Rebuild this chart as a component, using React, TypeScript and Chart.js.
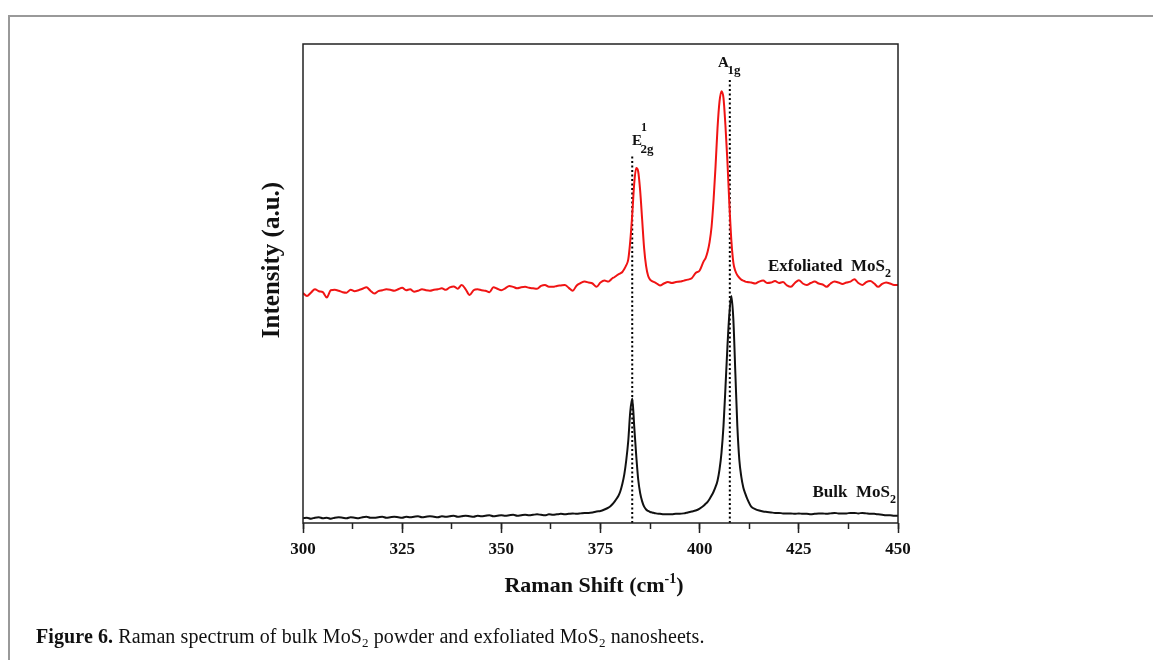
import React, { useEffect, useRef } from "react";
import { Chart, registerables } from "chart.js";

Chart.register(...registerables);

// Raman shift (cm^-1) sample positions
const ramanShift: number[] = [
  300, 301, 302, 303, 304, 305, 306, 307, 308, 309,
  310, 311, 312, 313, 314, 315, 316, 317, 318, 319,
  320, 321, 322, 323, 324, 325, 326, 327, 328, 329,
  330, 331, 332, 333, 334, 335, 336, 337, 338, 339,
  340, 341, 342, 343, 344, 345, 346, 347, 348, 349,
  350, 351, 352, 353, 354, 355, 356, 357, 358, 359,
  360, 361, 362, 363, 364, 365, 366, 367, 368, 369,
  370, 371, 372, 373, 374, 375, 376, 377,
  377.5, 378, 378.5, 379, 379.5, 380, 380.5, 381, 381.5, 382, 382.5,
  383, 383.5, 384, 384.5, 385, 385.5, 386, 386.5, 387, 387.5, 388,
  389, 390, 391, 392, 393, 394, 395, 396, 397, 398, 399, 400, 401,
  401.5, 402, 402.5, 403, 403.5, 404, 404.5, 405, 405.5, 406, 406.5,
  407, 407.5, 408, 408.5, 409, 409.5, 410, 410.5, 411, 411.5, 412,
  413, 414, 415, 416, 417, 418, 419, 420, 421, 422,
  423, 424, 425, 426, 427, 428, 429, 430, 431, 432,
  433, 434, 435, 436, 437, 438, 439, 440, 441, 442,
  443, 444, 445, 446, 447, 448, 449, 450,
];

// Exfoliated MoS2 (red), arbitrary units
const exfoliatedIntensity: number[] = [
  48.2, 47.6, 48.3, 49.0, 48.6, 48.4, 47.3, 48.8, 48.9, 48.7,
  48.4, 48.3, 48.9, 48.6, 48.8, 49.1, 49.4, 48.7, 48.1, 48.6,
  48.8, 49.0, 48.9, 48.7, 49.0, 49.3, 48.8, 49.0, 48.5, 48.7,
  49.0, 48.8, 48.7, 48.9, 49.0, 49.2, 48.9, 49.4, 49.6, 49.1,
  49.9, 49.0, 47.8, 48.8, 49.0, 48.8, 48.7, 48.4, 49.4, 49.1,
  48.8, 49.2, 49.7, 49.5, 49.2, 49.4, 49.5, 49.3, 49.2, 49.1,
  49.7, 49.9, 49.5, 49.5, 49.7, 49.8, 49.9, 49.3, 48.7, 49.8,
  50.3, 50.6, 50.4, 50.2, 49.5, 50.4, 50.8, 50.6,
  50.9, 51.3, 51.5, 51.8, 52.1, 52.3, 52.6, 53.2, 54.0, 55.2, 59.0,
  64.5, 71.0, 74.2, 73.5, 69.5, 63.5, 57.5, 53.8, 51.8, 51.0, 50.7,
  50.3, 49.8, 50.2, 50.5, 50.3, 50.5, 50.6, 50.8, 51.0, 51.3, 52.4, 52.9, 54.8,
  55.5, 56.8, 58.8, 62.0, 67.5, 74.5, 82.5, 88.0, 90.2, 88.8, 83.0,
  75.5, 66.5, 59.0, 54.5, 52.8, 51.9, 51.4, 51.0, 50.8, 50.6, 50.5,
  50.4, 50.2, 50.6, 50.8, 50.3, 50.4, 50.7, 50.3, 50.5, 49.8,
  49.5, 50.3, 50.9, 50.2, 49.9, 50.3, 50.6, 50.2, 50.0, 49.5,
  50.2, 50.6, 50.4, 50.1, 50.4, 50.6, 51.1, 50.3, 49.9, 50.5,
  50.7, 50.2, 49.5, 50.1, 50.4, 50.2, 49.9, 49.9,
];

// Bulk MoS2 (black), arbitrary units
const bulkIntensity: number[] = [
  1.4, 1.5, 1.3, 1.5, 1.6, 1.4, 1.5, 1.3, 1.5, 1.6,
  1.5, 1.4, 1.6, 1.5, 1.4, 1.6, 1.7, 1.5, 1.5, 1.6,
  1.7, 1.5, 1.6, 1.7, 1.6, 1.5, 1.7, 1.6, 1.7, 1.8,
  1.6, 1.7, 1.8, 1.7, 1.6, 1.8, 1.7, 1.8, 1.9, 1.7,
  1.8, 1.9, 1.8, 1.7, 1.9, 1.8, 1.9, 2.0, 1.8, 1.9,
  2.0, 1.9, 2.0, 2.1, 1.9, 2.0, 2.1, 2.0, 2.1, 2.2,
  2.1, 2.0, 2.2, 2.1, 2.2, 2.3, 2.2, 2.3, 2.4, 2.3,
  2.4, 2.5, 2.5, 2.6, 2.8, 2.9, 3.2, 3.6,
  3.9, 4.3, 4.8, 5.4, 6.0, 7.0, 8.5, 10.5, 13.5, 17.5, 23.5,
  26.3, 20.5, 14.5, 9.5, 6.6, 4.9, 3.8, 3.2, 2.9, 2.7, 2.6,
  2.4, 2.3, 2.2, 2.2, 2.2, 2.3, 2.3, 2.4, 2.6, 2.8, 3.0, 3.4, 4.0,
  4.4, 4.8, 5.4, 6.1, 6.9, 7.9, 9.2, 11.5, 15.0, 20.5, 28.5,
  37.1, 44.0, 47.6, 42.6, 31.5, 20.5, 13.5, 10.0, 7.8, 6.5, 5.4,
  3.8, 3.3, 3.0, 2.8, 2.7, 2.6, 2.5, 2.5, 2.4, 2.4,
  2.4, 2.3, 2.4, 2.3, 2.3, 2.2, 2.3, 2.4, 2.4, 2.3,
  2.4, 2.5, 2.4, 2.4, 2.4, 2.5, 2.5, 2.4, 2.5, 2.4,
  2.3, 2.3, 2.2, 2.1, 2.0, 2.0, 1.9, 1.9,
];

// Dotted marker lines for the two Raman modes
const e2gLineX: number[] = [383.0, 383.0];
const e2gLineY: number[] = [0.4, 76.9];
const a1gLineX: number[] = [407.6, 407.6];
const a1gLineY: number[] = [0.4, 92.5];

const xMin = 300;
const xMax = 450;
const xMajorStep = 25;
const xMinorStep = 12.5;
const yMin = 0.4;
const yMax = 100;

const SERIF = "'Liberation Serif', 'Times New Roman', serif";

type Seg = { text: string; size: number; dy?: number };

function drawRich(ctx: CanvasRenderingContext2D, segs: Seg[], x: number, y: number, align: "left" | "center" | "right") {
  let total = 0;
  const widths = segs.map((s) => {
    ctx.font = `bold ${s.size}px ${SERIF}`;
    const w = ctx.measureText(s.text).width;
    total += w;
    return w;
  });
  let cx = align === "left" ? x : align === "center" ? x - total / 2 : x - total;
  ctx.textAlign = "left";
  ctx.textBaseline = "alphabetic";
  segs.forEach((s, i) => {
    ctx.font = `bold ${s.size}px ${SERIF}`;
    ctx.fillText(s.text, cx, y + (s.dy || 0));
    cx += widths[i];
  });
}

const annotationPlugin = {
  id: "ramanAnnotations",
  afterDatasetsDraw(chart: any) {
    const { ctx, chartArea } = chart;
    ctx.save();
    ctx.strokeStyle = "#222";
    ctx.lineWidth = 1.5;
    ctx.strokeRect(chartArea.left, chartArea.top, chartArea.right - chartArea.left, chartArea.bottom - chartArea.top);
    ctx.restore();
  },
  afterDraw(chart: any) {
    const { ctx } = chart;
    ctx.save();
    ctx.fillStyle = "#111";

    // peak labels
    drawRich(ctx, [{ text: "E", size: 15 }], 632, 145, "left");
    drawRich(ctx, [{ text: "1", size: 12 }], 641, 131, "left");
    drawRich(ctx, [{ text: "2g", size: 13 }], 640.5, 153, "left");
    drawRich(ctx, [{ text: "A", size: 15 }], 718, 67, "left");
    drawRich(ctx, [{ text: "1g", size: 13 }], 727.5, 74, "left");

    // curve labels
    drawRich(ctx, [{ text: "Exfoliated  MoS", size: 17 }, { text: "2", size: 12, dy: 6 }], 891, 271, "right");
    drawRich(ctx, [{ text: "Bulk  MoS", size: 17 }, { text: "2", size: 12, dy: 6 }], 896, 497, "right");

    // x title
    drawRich(
      ctx,
      [
        { text: "Raman Shift (cm", size: 22 },
        { text: "-1", size: 14, dy: -9 },
        { text: ")", size: 22 },
      ],
      594,
      592,
      "center"
    );

    // y title
    ctx.translate(273, 260);
    ctx.rotate(-Math.PI / 2);
    ctx.font = `bold 25px ${SERIF}`;
    ctx.textAlign = "center";
    ctx.textBaseline = "middle";
    ctx.fillText("Intensity (a.u.)", 0, 0);
    ctx.restore();
  },
};

export default function App() {
  const canvasRef = useRef<HTMLCanvasElement | null>(null);

  useEffect(() => {
    const prevOverflow = document.body.style.overflow;
    document.body.style.overflow = "hidden";
    const canvas = canvasRef.current;
    if (!canvas) return;

    const toPoints = (xs: number[], ys: number[]) => xs.map((x, i) => ({ x, y: ys[i] }));

    const chart = new Chart(canvas, {
      type: "line",
      data: {
        datasets: [
          {
            label: "Exfoliated MoS2",
            data: toPoints(ramanShift, exfoliatedIntensity),
            borderColor: "#f01414",
            borderWidth: 2,
            pointRadius: 0,
            cubicInterpolationMode: "monotone",
            fill: false,
          },
          {
            label: "Bulk MoS2",
            data: toPoints(ramanShift, bulkIntensity),
            borderColor: "#111111",
            borderWidth: 2,
            pointRadius: 0,
            cubicInterpolationMode: "monotone",
            fill: false,
          },
          {
            label: "E2g",
            data: toPoints(e2gLineX, e2gLineY),
            borderColor: "#000",
            borderWidth: 2,
            borderDash: [2, 2.5],
            pointRadius: 0,
            fill: false,
          },
          {
            label: "A1g",
            data: toPoints(a1gLineX, a1gLineY),
            borderColor: "#000",
            borderWidth: 2,
            borderDash: [2, 2.5],
            pointRadius: 0,
            fill: false,
          },
        ],
      },
      options: {
        responsive: false,
        animation: false,
        events: [],
        layout: { padding: { left: 303, top: 44, right: 255, bottom: 97 } },
        plugins: {
          legend: { display: false },
          tooltip: { enabled: false },
        },
        scales: {
          xMinor: {
            type: "linear",
            position: "bottom",
            weight: 0,
            min: xMin,
            max: xMax,
            ticks: { display: false, stepSize: xMinorStep },
            grid: { display: true, drawOnChartArea: false, drawTicks: true, tickLength: 6, tickColor: "#222", tickWidth: 1.5 },
            border: { display: false },
            afterFit: (s: any) => {
              s.height = 0;
            },
          },
          x: {
            type: "linear",
            position: "bottom",
            weight: 1,
            min: xMin,
            max: xMax,
            ticks: {
              stepSize: xMajorStep,
              padding: 6,
              color: "#111",
              font: { family: SERIF, size: 17, weight: "bold" },
              maxRotation: 0,
              callback: (v: any) => String(v),
            },
            grid: { display: true, drawOnChartArea: false, drawTicks: true, tickLength: 10, tickColor: "#222", tickWidth: 1.5 },
            border: { display: false },
            afterFit: (s: any) => {
              s.height = 40;
            },
          },
          y: {
            display: false,
            min: yMin,
            max: yMax,
          },
        },
      },
      plugins: [annotationPlugin],
    } as any);

    return () => {
      chart.destroy();
      document.body.style.overflow = prevOverflow;
    };
  }, []);

  return (
    <div style={{ position: "fixed", left: 0, top: 0, width: 1153, height: 660, overflow: "hidden", background: "#fff" }}>
      <div
        style={{
          position: "absolute",
          left: 8,
          top: 15,
          width: 1300,
          height: 800,
          borderLeft: "2px solid #999",
          borderTop: "2px solid #999",
        }}
      />
      <canvas ref={canvasRef} width={1153} height={660} style={{ position: "absolute", left: 0, top: 0, width: 1153, height: 660 }} />
      <div
        style={{
          position: "absolute",
          left: 36,
          top: 626,
          fontFamily: SERIF,
          fontSize: 20,
          lineHeight: "20px",
          color: "#111",
          whiteSpace: "nowrap",
          letterSpacing: "0.1px",
        }}
      >
        <b>Figure 6.</b> Raman spectrum of bulk MoS<sub style={{ fontSize: 13, verticalAlign: "-4px", lineHeight: 0 }}>2</sub> powder and exfoliated MoS
        <sub style={{ fontSize: 13, verticalAlign: "-4px", lineHeight: 0 }}>2</sub> nanosheets.
      </div>
    </div>
  );
}
